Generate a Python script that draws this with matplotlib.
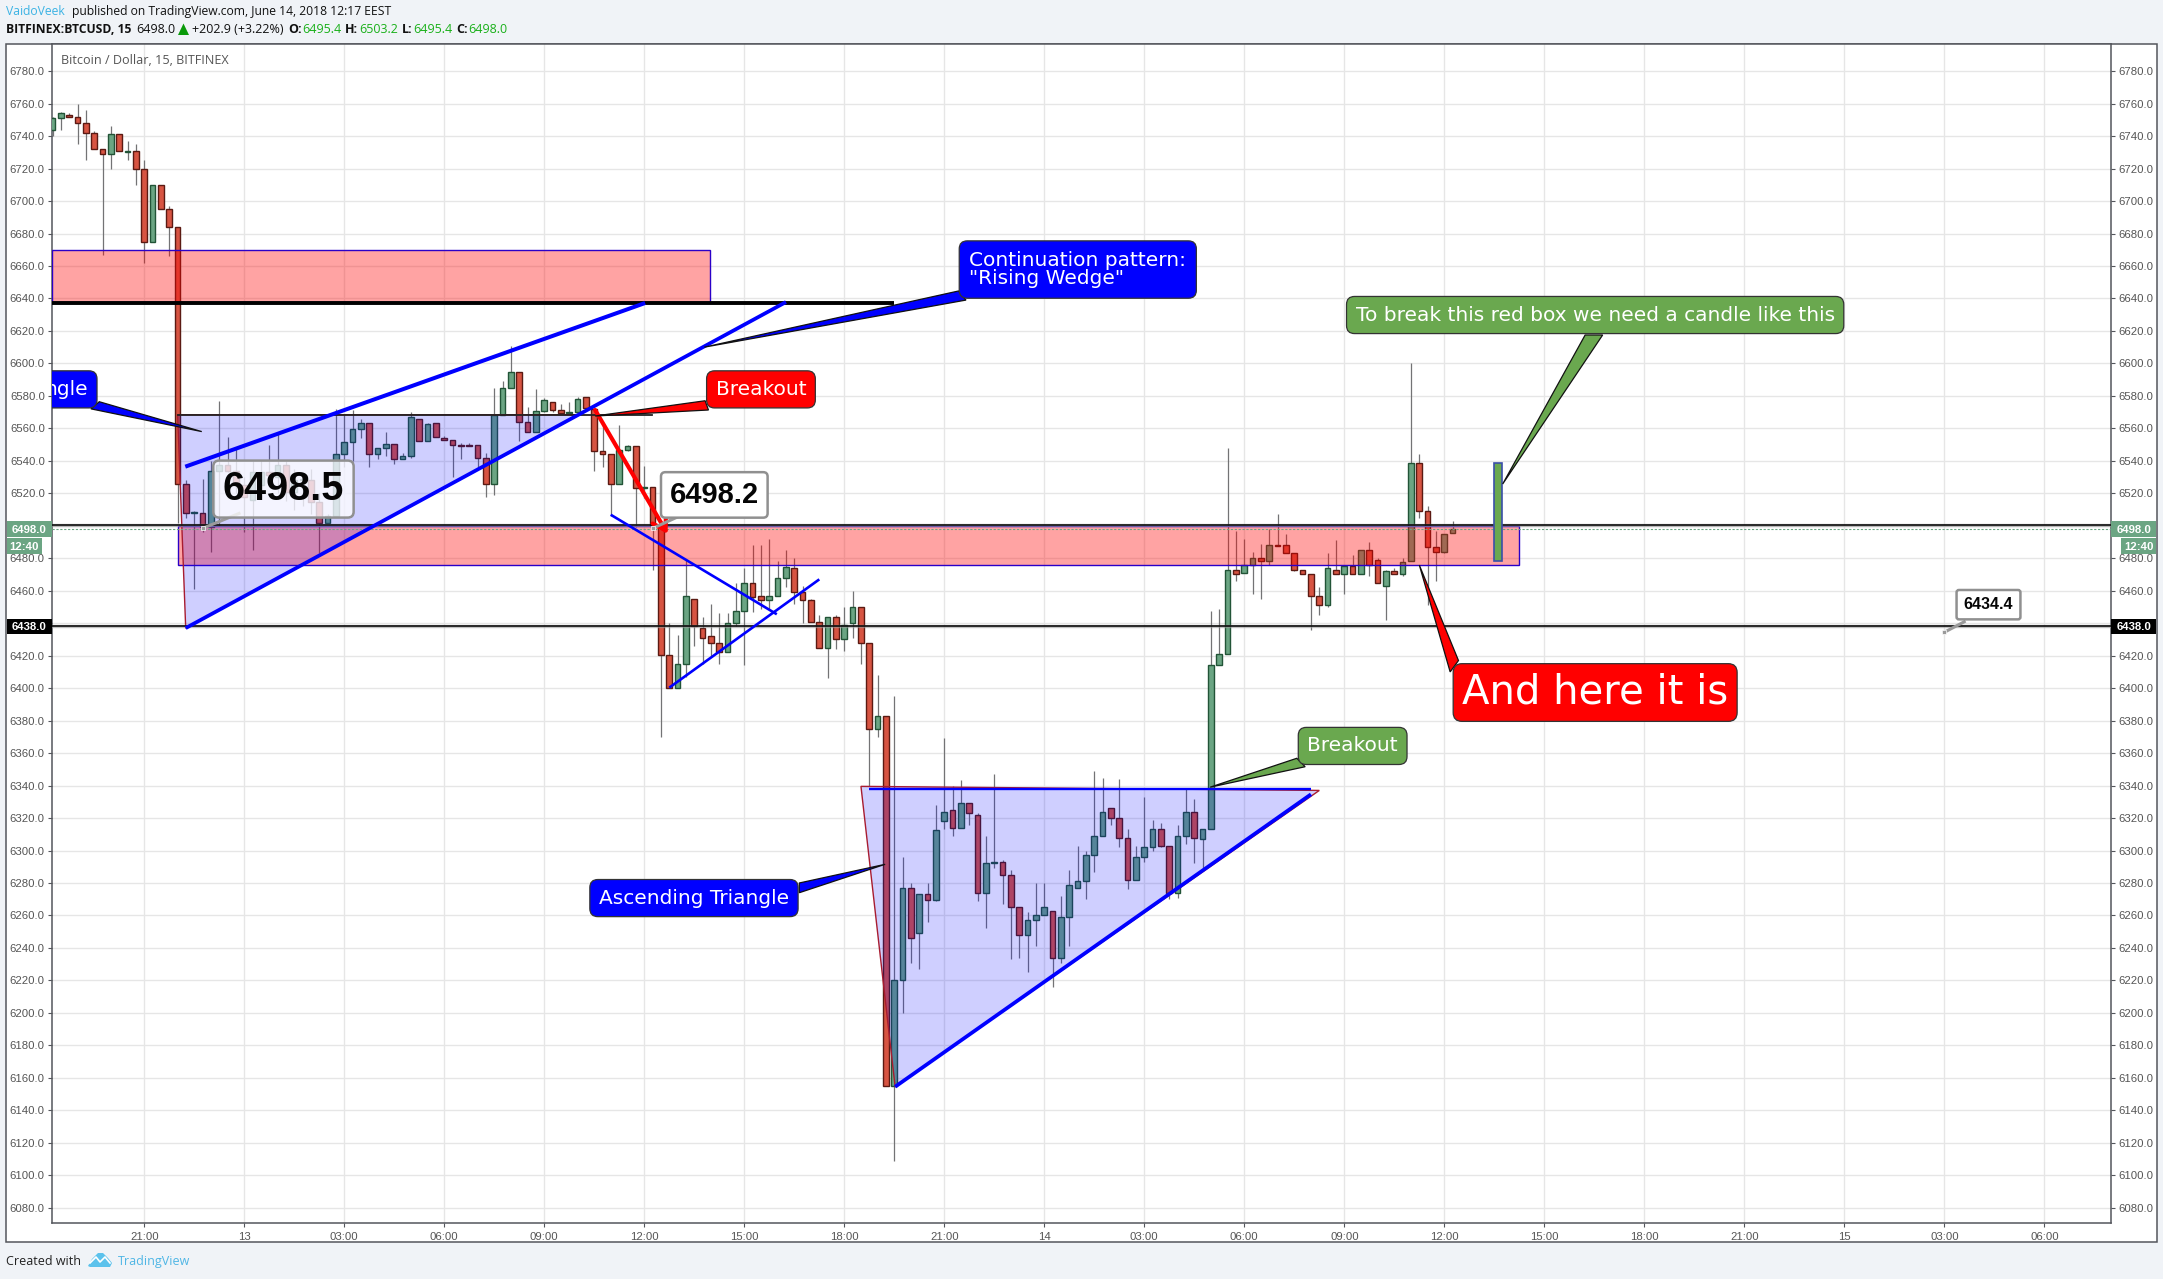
import matplotlib
matplotlib.use("Agg")
import matplotlib.pyplot as plt
from matplotlib.patches import Rectangle, Polygon
from matplotlib.transforms import Affine2D, blended_transform_factory

W, H = 2163, 1279
first_bar = -11

bar_open = [6744,6751,6753,6752,6748,6742,6732,6729,6741,6730,6731,
 6720,6675,6710,6695,6684,6526,6508,6508,6499.5,6534,
 6537.5,6534,6525,6516,6525,6533,6530,6537.5,6521,6528,
 6528,6514.5,6502,6506,6544,6551.5,6559.5,6563,6544,6548,
 6550.5,6541,6543,6566,6552,6563,6554,6553,6550,6550,
 6549.5,6542,6526,6568.5,6585,6595,6564,6558,6570.5,6576,
 6571,6569.5,6570,6579,6572,6546,6544,6526,6546.5,6549,
 6523,6524,6500,6420.5,6400,6415,6455,6437,6432,6428,
 6422,6440,6447.5,6465,6457,6454,6457,6468,6474,6459,
 6454.5,6441,6425,6444,6430,6440,6450,6428,6375,6383,
 6155,6220,6277,6249,6273,6269.5,6318,6325,6314,6329.5,
 6322,6274,6292,6293,6285,6265,6248,6257,6260,6263,
 6234,6259,6277,6281,6297,6309,6326,6320,6307.5,6282,
 6296,6302,6313,6303,6274,6309,6324,6307,6313,6414,
 6421,6473,6471,6476,6480,6478,6488,6488,6483,6473,
 6470,6457,6451,6473,6470,6475,6470,6485,6479,6463,
 6472,6470,6478,6538.5,6509,6487,6484,6495.4]
bar_high = [6752,6755,6754,6760,6756,6743,6732,6746,6741,6737,6735,
 6725,6710,6710,6697,6684,6528,6509,6529,6540,6577,
 6554.5,6547,6530,6540,6540.5,6550,6557,6540,6535,6532,
 6535,6520,6507,6572,6569,6571,6565.5,6563,6548,6558,
 6550.5,6545,6570,6566,6563,6563,6555,6553,6551,6551,
 6550,6545,6585,6589,6611,6595,6573,6584,6578.5,6576,
 6575,6576,6579,6579,6572,6564,6544,6562,6550,6549,
 6537,6524,6500,6440,6433,6479,6455,6444,6452,6446,
 6446,6465,6474,6488,6488,6492,6478,6485,6480,6463,
 6455,6445,6444,6445,6450,6460,6450,6428,6408,6383,
 6395,6296,6280,6273,6280,6328,6369,6340,6343.5,6329.5,
 6323,6309,6347,6294,6288,6265,6262,6280,6280,6263,
 6272,6288,6303,6300,6349,6344.5,6326,6344,6313,6303,
 6333,6319,6317,6303,6316,6338,6332,6313,6447.6,6449,
 6548,6497,6492,6484,6489,6498,6507,6495,6483,6473,
 6470,6462,6483,6491,6475,6482,6485,6490,6480,6473,
 6474,6480,6600,6544,6512,6497,6495,6503.2]
bar_low = [6740,6744,6752,6735,6725,6732,6667,6720,6731,6725,6710,
 6662,6675,6695,6666,6502,6505,6461,6496,6484,6500,
 6533,6520,6496,6485,6518,6525,6520,6515,6510,6512,
 6507,6483,6502,6506,6536,6540,6554,6536,6541,6543,
 6538,6541,6542,6552,6552,6554.5,6553,6530,6541,6549,
 6536,6518,6519,6568,6585,6552,6558,6558,6570,6570,
 6569,6569,6570,6572,6534,6536,6506,6526,6546,6499,
 6517,6473,6370,6400,6400,6407,6426,6415,6419,6415,
 6422,6438,6414,6447,6449,6449,6457,6462,6452,6440,
 6441,6425,6406,6424,6423,6431,6415,6340,6370,6155,
 6109,6200,6231,6227,6256,6269,6313,6309,6314,6316,
 6269,6252,6289,6267,6233,6234,6225,6241,6260,6216,
 6231,6241,6277,6270,6287,6309,6316,6302,6276,6282,
 6293,6300,6302,6270,6271,6304,6292,6289,6313,6414,
 6421,6466,6471,6458,6455,6476,6487.5,6483,6472,6470,
 6436,6445,6450,6470,6458,6470,6470,6469,6465,6442,
 6470,6469,6478,6505,6451,6466,6483,6495.4]
bar_close = [6751,6754,6752,6748,6742,6732,6729,6741,6731,6731,6720,
 6675,6710,6695,6684,6526,6508,6508.5,6499.5,6534,6537.5,
 6534,6525,6518,6533,6533,6531.5,6537.5,6521,6528,6528.5,
 6514.5,6502,6506,6544,6551.5,6559.5,6563,6544,6548,6550.5,
 6541,6543,6567,6552,6562.5,6554.5,6553,6549.5,6549,6549,
 6542,6526,6568.5,6585,6595,6564,6558,6570.5,6577.5,6571,
 6569.5,6570,6578,6572.5,6546,6544,6526,6546.5,6549,6523,
 6524,6500,6420.5,6400,6415,6457,6438,6431,6428,6422,
 6440,6447.5,6465,6456,6454,6457,6468,6474.5,6459,6454.5,
 6441,6425,6444,6430,6439,6450,6428,6375,6383,6155,
 6220,6277,6246,6273,6269.5,6312.5,6324,6314,6329.5,6323,
 6274,6292,6293,6285,6265,6248,6257,6260,6265,6234,
 6259,6279,6281,6297,6309,6324,6320,6307.5,6282,6296,
 6302,6313,6303,6274,6309,6324,6308,6313,6414,6421,
 6473,6470,6476,6480,6478,6488,6487.5,6483,6473,6470,
 6457,6451,6474,6470,6475,6470,6485,6476,6465,6472,
 6470,6477.5,6538.5,6509,6487,6484,6495,6498]

price_ticks = list(range(6080, 6800, 20))
hidden_price_labels = [6500, 6440]
time_labels = ["21:00","13","03:00","06:00","09:00","12:00","15:00","18:00",
               "21:00","14","03:00","06:00","09:00","12:00","15:00","18:00",
               "21:00","15","03:00","06:00"]
time_tick_bars = [12*k for k in range(len(time_labels))]

support_levels = [6500.3, 6438.0]
last_price = 6498.0

red_box_upper = [-11.1, 67.9, 6638, 6670]
red_box_lower = [4.0, 165.0, 6475.7, 6500]
triangle_one = [(4.0,6568.4),(4.97,6436.9),(52.2,6568.4)]
triangle_two = [(86.0,6339.5),(90.1,6154.5),(141.0,6337.0)]
blue_lines = [((4.92,6536.4),(60.1,6637.2)),((4.97,6437.0),(77.0,6637.8)),
              ((55.97,6506.8),(75.9,6445.5)),((63.0,6400.3),(81.0,6467.0)),
              ((87.0,6338.0),(140.0,6338.0)),((90.1,6154.5),(140.0,6334.6))]
blue_widths = [2.9, 2.7, 1.9, 1.9, 1.7, 2.7]
drawn_candle = [162.5, 6478, 6538.5]

plt.rcParams['font.family'] = ['Liberation Sans', 'DejaVu Sans']
fig = plt.figure(figsize=(W/100, H/100), dpi=100, facecolor='#f0f3f7')
px = Affine2D().scale(1/W, -1/H).translate(0, 1) + fig.transFigure
L, R, T, B = 51.7, 2111.0, 43.7, 1223.3
FRAME = '#54565c'
fig.add_artist(Rectangle((6.3, T), 2156.7-6.3, 1242-T, transform=px, fc='white', ec=FRAME, lw=1.1, zorder=-5))
ax = fig.add_axes([L/W, 1-B/H, (R-L)/W, (B-T)/H], facecolor='white')
ax.set_xlim(-11.11, 236.0)
ax.set_ylim(6070.4, 6796.9)
for s in ax.spines.values():
    s.set_color(FRAME); s.set_linewidth(1.1)
ax.set_axisbelow(True)
ax.grid(True, color='#e6e6e6', lw=1.0)
ax.set_yticks(price_ticks)
ax.set_yticklabels(['' if p in hidden_price_labels else f'{p}.0' for p in price_ticks])
ax.set_xticks(time_tick_bars)
ax.set_xticklabels(time_labels)
ax.tick_params(axis='y', left=True, right=True, labelleft=True, labelright=True,
               length=3, width=0.8, color=FRAME, labelcolor='#555555', labelsize=8.2, pad=2)
ax.tick_params(axis='x', length=3, width=0.8, color=FRAME, labelcolor='#555555', labelsize=8.2, pad=3)

# candles
bars = [first_bar + k for k in range(len(bar_open))]
for x, o, h, l, c in zip(bars, bar_open, bar_high, bar_low, bar_close):
    up = c >= o
    ax.vlines(x, l, h, color='#737375', lw=0.9, zorder=2)
    ax.bar(x, max(abs(c-o), 0.4), bottom=min(o, c), width=0.68,
           color='#6ba583' if up else '#d75442',
           edgecolor='#225437' if up else '#5b1a13', lw=1.0, zorder=3)

# zones
for x0, x1, y0, y1 in (red_box_upper, red_box_lower):
    ax.add_patch(Rectangle((x0, y0), x1-x0, y1-y0, fc=(1, 0, 0, 0.36), ec='#2a00c8', lw=1.0, zorder=4))
ax.plot([-11.1, 90.0], [6637.3, 6637.3], color='black', lw=2.8, zorder=5, solid_capstyle='butt')
for tri in (triangle_one, triangle_two):
    ax.add_patch(Polygon(tri, closed=True, fc=(0, 0, 1, 0.19), ec='#a81c30', lw=1.0, zorder=4))
ax.plot([4.0, 60.9], [6568.2, 6568.2], color='#222222', lw=1.3, zorder=5)
for lvl in support_levels:
    ax.axhline(lvl, color='#9a9a9a', lw=2.4, alpha=0.6, zorder=5)
    ax.axhline(lvl, color='black', lw=1.1, zorder=5)
ax.axhline(last_price, color='#6ba583', lw=0.8, ls=(0, (2, 1.5)), zorder=5)
for (a, b), lw in zip(blue_lines, blue_widths):
    ax.plot([a[0], b[0]], [a[1], b[1]], color='#0000ff', lw=lw, zorder=6, solid_capstyle='butt')
ax.annotate('', xy=(62.8, 6495), xytext=(54.1, 6571.3),
            arrowprops=dict(arrowstyle='->,head_length=0.9,head_width=0.55', color='#ff0000', lw=3.0, shrinkA=0, shrinkB=0),
            zorder=6)
ax.add_patch(Rectangle((drawn_candle[0]-0.48, drawn_candle[1]), 0.96, drawn_candle[2]-drawn_candle[1],
                       fc='#6aa84f', ec='#3a4fa8', lw=1.2, zorder=6))

# callouts
def callout(text, x, y, color, tail, size=14.5, ha='center', pad=0.45, clip=False, linespacing=1.0, rnd=0.4):
    ax.add_patch(Polygon(tail, closed=True, fc=color, ec='#111111', lw=0.9, zorder=7, joinstyle='miter'))
    ax.text(x, y, text, color='white', fontsize=size, ha=ha, va='center', family='DejaVu Sans',
            linespacing=linespacing, zorder=8, clip_on=clip,
            bbox=dict(boxstyle=f'round,pad={pad},rounding_size={rnd}', fc=color, ec='#333333', lw=0.9))

callout('Continuation pattern:\n"Rising Wedge"', 99.0, 6657.8, '#0000ff',
        [(67.2,6610),(97.7,6644.6),(98.6,6639)], ha='left', pad=0.5, linespacing=0.95)
callout('Breakout', 74, 6584, '#ff0000', [(67.3,6577),(67.7,6571.3),(54.1,6567.6)])
callout('ngle', -6.76, 6584, '#0000ff', [(-5.4,6576.4),(-6.4,6572),(6.9,6558)], ha='right', clip=True)
callout('Ascending Triangle', 65.96, 6270.7, '#0000ff', [(78.6,6280),(78.6,6274),(88.9,6291.5)])
callout('Breakout', 145, 6364.4, '#6aa84f', [(138.3,6356.8),(139.3,6351.6),(127.9,6339)])
callout('To break this red box we need a candle like this', 174.1, 6629.8, '#6aa84f',
        [(172.9,6617.5),(175,6617.5),(163,6525.7)])
callout('And here it is', 174.1, 6397.3, '#ff0000', [(156.7,6410),(157.7,6417),(153,6475.8)], size=29, pad=0.22, rnd=0.22)

# price balloons
def balloon(text, x, y, tipx, tipy, size, alpha, pad):
    ax.plot([tipx, x-(x-tipx)*0.55], [tipy, y-(y-tipy)*0.62], color='#9a9a9a', lw=2.2, zorder=9)
    ax.plot([tipx], [tipy], marker='s', ms=3.5, color='#9a9a9a', mec='white', mew=0.5, zorder=10)
    ax.text(x, y, text, fontsize=size, fontweight='bold', ha='center', va='center', color='#050505', zorder=10,
            bbox=dict(boxstyle=f'round,pad={pad},rounding_size=0.15', fc=(1, 1, 1, alpha), ec='#909090', lw=1.8))

balloon('6498.5', 16.7, 6522.6, 7, 6498.4, 28.5, 0.78, 0.24)
balloon('6498.2', 68.4, 6519, 61, 6498.4, 21, 1.0, 0.3)
balloon('6434.4', 221.3, 6451.4, 216, 6434.4, 11.5, 1.0, 0.45)

# axis price tags
blend = blended_transform_factory(ax.transAxes, ax.transData)
fw = 1/(R-L)
def tag(text, x0, x1, center, height, color):
    ax.add_patch(Rectangle((x0, center-height/2), x1-x0, height, transform=blend, fc=color, ec='none',
                           clip_on=False, zorder=20))
    xc = (x0+x1)/2
    ax.text(xc, center-0.3, text, transform=blend, color='white', fontsize=8.2, fontweight='bold',
            ha='center', va='center', clip_on=False, zorder=21)

left0 = (6.8-L)*fw
right1 = (2156.2-L)*fw
tag('6498.0', left0, 0, last_price, 9.7, '#6ba583')
tag('6498.0', 1, right1, last_price, 9.7, '#6ba583')
tag('12:40', left0, (42-L)*fw, 6487.4, 9.9, '#6ba583')
tag('12:40', (2121-L)*fw, right1, 6487.4, 9.9, '#6ba583')
tag('6438.0', left0, 0, 6438.0, 9.7, '#000000')
tag('6438.0', 1, right1, 6438.0, 9.7, '#000000')

ax.text(61, 60.7, 'Bitcoin / Dollar, 15, BITFINEX', transform=px, fontsize=9.1, color='#555555',
        family='Open Sans', va='center', ha='left', zorder=12)

# header / footer
def ftext(x, y, s, color='#111111', weight='normal', size=9.0):
    fig.text(x/W, 1-y/H, s, color=color, fontweight=weight, fontsize=size, family='Open Sans', ha='left', va='center')

G = '#19b019'
ftext(6, 11.7, 'VaidoVeek', '#3bb3e4', size=8.7)
ftext(72, 11.7, 'published on TradingView.com, June 14, 2018 12:17 EEST', size=8.7)
ftext(6.4, 29.7, 'BITFINEX:BTCUSD, 15', weight='bold', size=8.7)
ftext(136, 29.7, '6498.0')
fig.add_artist(Polygon([(178,35),(189,35),(183.5,23.5)], transform=px, fc='#0a9a0a', ec='none'))
ftext(192, 29.7, '+202.9 (+3.22%)')
for x, s, w, c in [(288,'O:','bold','#111111'),(302,'6495.4','normal',G),(345,'H:','bold','#111111'),
                   (359,'6503.2','normal',G),(402,'L:','bold','#111111'),(413,'6495.4','normal',G),
                   (456,'C:','bold','#111111'),(468,'6498.0','normal',G)]:
    ftext(x, 29.7, s, c, w)
ftext(6, 1261.7, 'Created with', '#222222')
ftext(118, 1261.7, 'TradingView', '#4fb6e5')
fig.add_artist(Polygon([(88,1266),(92,1259),(98,1253),(103,1253),(108,1258),(112,1263),(110,1267),(90,1267)],
                       transform=px, fc='#5cc2ec', ec='none'))
fig.add_artist(plt.Line2D([90,96,100,105,110],[1263,1257,1262,1257,1263], transform=px, color='white', lw=1.2))

fig.savefig('out.png', dpi=100, facecolor=fig.get_facecolor())
